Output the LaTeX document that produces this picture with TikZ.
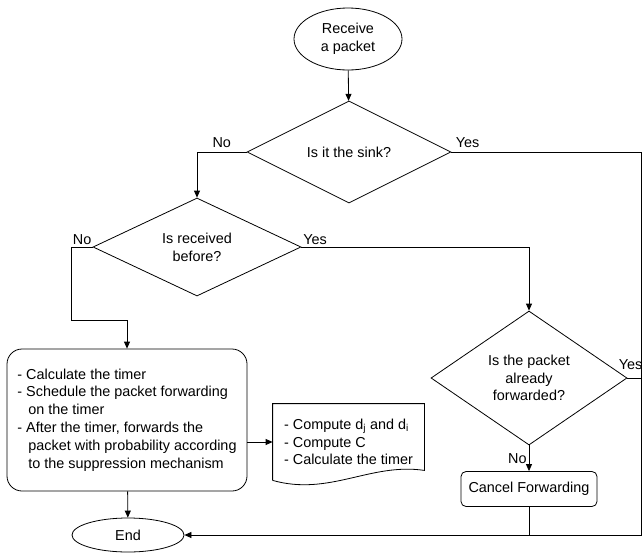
\documentclass[tikz,border=0pt]{standalone}
\usepackage{fontspec}
\setmainfont{Liberation Sans}
\usetikzlibrary{positioning,calc,arrows.meta,shapes.geometric}
\tikzset{
  terminal/.style = {ellipse,draw,inner sep=0pt,align=center},
  decision/.style = {diamond,draw,inner sep=0pt,align=center},
  process/.style  = {rectangle,draw,rounded corners=15pt,align=left},
  docnode/.style  = {inner sep=0pt,align=left},
  lbl/.style      = {inner sep=4pt},
  >={Triangle[length=7pt,width=6pt]}
}

\begin{document}
\begin{tikzpicture}[x=1pt,y=-1pt,line width=0.8pt,font=\fontsize{14.4}{17.8}\selectfont]
    \useasboundingbox (0,0) rectangle (642,552);

    % start and end
    \node[terminal,minimum width=108,minimum height=62] (rcv) at (348,39) {Receive\\a packet};
    \node[terminal,minimum width=112,minimum height=34] (fin) at (128,535) {End};

    % decisions
    \node[decision,minimum width=204,minimum height=102] (sink) at (349,152) {Is it the sink?};
    \node[decision,minimum width=208,minimum height=88] (seen) at (197,247) {Is received\\before?};
    \node[decision,minimum width=196,minimum height=134] (fwd) at (529,378) {Is the packet\\already\\forwarded?};

    % actions
    \node[process,minimum width=240,minimum height=142] (sched) at (127,420)
    {\begin{tabular}{@{}l@{}}
     - Calculate the timer\\
     - Schedule the packet forwarding\\
     \hspace*{11pt}on the timer\\
     - After the timer, forwards the\\
     \hspace*{11pt}packet with probability according\\
     \hspace*{11pt}to the suppression mechanism
     \end{tabular}};
    \node[process,rounded corners=5pt,minimum width=136,minimum height=35] (cancel) at (529,489) {Cancel Forwarding};

    % document with wavy bottom
    \node[docnode,minimum width=151,minimum height=76] (calc) at (348.5,442)
    {- Compute d\textsubscript{j} and d\textsubscript{i}\\
     - Compute C\\
     - Calculate the timer};
    \draw (calc.south west) -- (calc.north west) -- (calc.north east) -- ($(calc.south east)+(0,-10)$)
      .. controls ($(calc.south east)+(-54,-18)$) and ($(calc.south west)+(57,16)$) .. (calc.south west);

    \coordinate (jog) at (71,320);
    \coordinate (rt)  at (641,535);

    \draw[->] (rcv) -- (sink);
    \draw[->] (sink.west) -| node[lbl,above,pos=0.25] {No} (seen.north);
    \draw[->] (sink.east) node[lbl,anchor=south west] {Yes} -| (rt) -- (fin.east);
    \draw[->] (seen.west) -- (jog |- seen.west) node[inner sep=1.5pt,anchor=south west] {No}
      -- (jog) -| (sched.north);
    \draw[->] (seen.east) node[inner sep=1.5pt,anchor=south west] {Yes} -| (fwd.north);
    \draw (fwd.east) -- (fwd.east -| rt);
    \node[inner sep=0pt,anchor=south west] at ($(fwd.east)+(-9,-8)$) {Yes};
    \draw[->] (fwd.south) -- node[inner sep=2pt,left] {No} (cancel.north);
    \draw (cancel.south) -- (cancel.south |- rt);
    \draw[->] (sched) -- (fin);
    \draw[->] (sched.east |- calc.west) -- (calc.west);
\end{tikzpicture}
\end{document}
